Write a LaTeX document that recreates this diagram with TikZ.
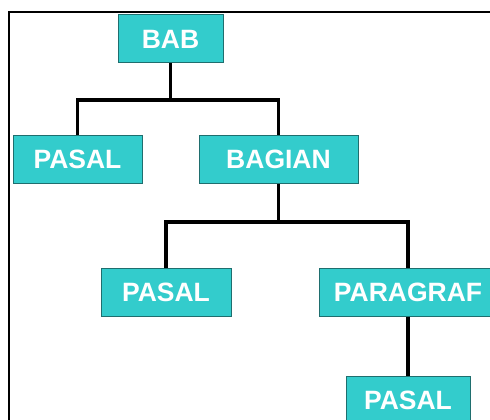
\documentclass[tikz,border=0pt]{standalone}
\usepackage{fontspec}
\setmainfont{Liberation Sans}
\definecolor{boxfill}{HTML}{33CCCC}
\definecolor{boxline}{HTML}{1F6E6E}
\tikzset{
	unit/.style={draw=boxline, line width=1pt, fill=boxfill, text=white,
		font=\fontsize{26.5}{30}\selectfont\bfseries, inner sep=0pt, minimum height=48pt},
	link/.style={black, line width=3.2pt}
}

\begin{document}
\begin{tikzpicture}[x=1pt,y=-1pt]
		\useasboundingbox (0,0) rectangle (490,420);
		\clip (0,0) rectangle (490,420);
		% outer frame, only left and top edges show
		\draw[black, line width=2.4pt] (9,425)--(9,12)--(495,12);

		\node[unit, minimum width=105pt] (bab) at (170.5,39) {BAB};
		\node[unit, minimum width=129pt] (pasalA) at (77.5,159.5) {PASAL};
		\node[unit, minimum width=159pt] (bagian) at (278.5,159.5) {BAGIAN};
		\node[unit, minimum width=130pt] (pasalB) at (166,292) {PASAL};
		\node[unit, minimum width=178pt] (paragraf) at (408,292) {PARAGRAF};
		\node[unit, minimum width=124pt] (pasalC) at (408,400) {PASAL};

		\coordinate (j1) at (170.5,100);
		\coordinate (j2) at (278.5,222);

		\draw[link] (bab.south)--(j1);
		\draw[link] (pasalA.north) |- (j1) -| (bagian.north);
		\draw[link] (bagian.south)--(j2);
		\draw[link] (pasalB.north) |- (j2) -| (paragraf.north);
		\draw[link] (paragraf.south)--(pasalC.north);
	\end{tikzpicture}
\end{document}
